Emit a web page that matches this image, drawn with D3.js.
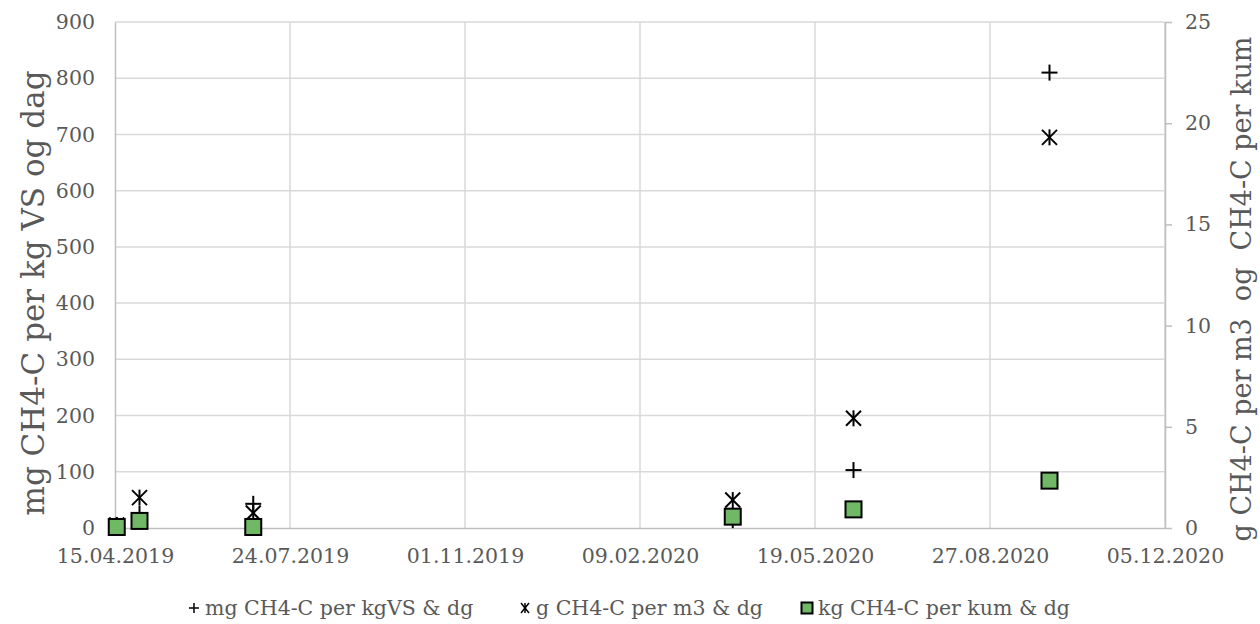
<!DOCTYPE html>
<html>
<head>
<meta charset="utf-8">
<script src="https://cdn.jsdelivr.net/npm/d3@7"></script>
<style>
  html, body { margin: 0; padding: 0; background: #fff; }
  svg { display: block; }
  text { font-family: "DejaVu Serif", "Liberation Serif", serif; fill: #595959; }
</style>
</head>
<body>
<svg id="chart" width="1260" height="624"></svg>
<script>
// Sampling dates and measured values
const sampleDates = ["16.04.2019", "29.04.2019", "03.07.2019", "02.04.2020", "10.06.2020", "30.09.2020"];
const mgPerKgVS   = [5, 25, 43, 14, 103, 810];        // mg CH4-C per kgVS & dg (left axis)
const gPerM3      = [0.15, 1.5, 0.74, 1.38, 5.42, 19.3]; // g CH4-C per m3 & dg (right axis)
const kgPerKum    = [0.05, 0.35, 0.05, 0.56, 0.92, 2.34]; // kg CH4-C per kum & dg (right axis)

const xTickLabels = ["15.04.2019", "24.07.2019", "01.11.2019", "09.02.2020", "19.05.2020", "27.08.2020", "05.12.2020"];
const leftTicks   = [0, 100, 200, 300, 400, 500, 600, 700, 800, 900];
const rightTicks  = [0, 5, 10, 15, 20, 25];

const seriesNames = ["mg CH4-C per kgVS & dg", "g CH4-C per m3 & dg", "kg CH4-C per kum & dg"];
const leftTitle  = "mg CH4-C per kg VS og dag";
const rightTitle = "g CH4-C per m3  og  CH4-C per kum";

const parse = d3.utcParse("%d.%m.%Y");
const fmt = d3.utcFormat("%d.%m.%Y");

const svg = d3.select("#chart");
const m = { left: 115, right: 1165, top: 22, bottom: 528 };

const x = d3.scaleUtc()
  .domain([parse(xTickLabels[0]), parse(xTickLabels[xTickLabels.length - 1])])
  .range([m.left, m.right]);
const yL = d3.scaleLinear().domain([0, 900]).range([m.bottom, m.top]);
const yR = d3.scaleLinear().domain([0, 25]).range([m.bottom, m.top]);

const tickFont = 20.5;

// Gridlines
const grid = svg.append("g");
grid.selectAll("line.h").data(leftTicks.slice(1)).join("line")
  .attr("x1", m.left).attr("x2", m.right)
  .attr("y1", d => yL(d)).attr("y2", d => yL(d))
  .attr("stroke", "#d9d9d9").attr("stroke-width", 1.5);
grid.selectAll("line.v").data(xTickLabels.slice(1)).join("line")
  .attr("x1", d => x(parse(d))).attr("x2", d => x(parse(d)))
  .attr("y1", m.top).attr("y2", m.bottom)
  .attr("stroke", "#d9d9d9").attr("stroke-width", 1.5);

// Bottom axis
const xAxis = d3.axisBottom(x).tickValues(xTickLabels.map(parse)).tickFormat(fmt).tickSize(0).tickPadding(20);
const gx = svg.append("g").attr("transform", `translate(0,${m.bottom})`).call(xAxis);
gx.select(".domain").attr("stroke", "#bfbfbf").attr("stroke-width", 1.5);
gx.selectAll("text").style("font-size", tickFont + "px").attr("fill", "#595959");

// Left axis
const yAxisL = d3.axisLeft(yL).tickValues(leftTicks).tickSize(0).tickPadding(20);
const gl = svg.append("g").attr("transform", `translate(${m.left},0)`).call(yAxisL);
gl.select(".domain").attr("stroke", "#bfbfbf").attr("stroke-width", 1.5);
gl.selectAll("text").style("font-size", tickFont + "px").attr("fill", "#595959");

// Right axis
const yAxisR = d3.axisRight(yR).tickValues(rightTicks).tickSize(7).tickSizeOuter(0).tickPadding(13);
const gr = svg.append("g").attr("transform", `translate(${m.right},0)`).call(yAxisR);
gr.select(".domain").attr("stroke", "#bfbfbf").attr("stroke-width", 1.5);
gr.selectAll(".tick line").attr("stroke", "#bfbfbf").attr("stroke-width", 1.5);
gr.selectAll("text").style("font-size", tickFont + "px").attr("fill", "#595959");

// Axis titles
svg.append("text")
  .attr("transform", `translate(44,293) rotate(-90)`)
  .attr("text-anchor", "middle")
  .style("font-size", "31px")
  .text(leftTitle);
svg.append("text")
  .attr("transform", `translate(1251,289) rotate(-90)`)
  .attr("text-anchor", "middle")
  .style("font-size", "27px")
  .style("white-space", "pre")
  .text(rightTitle);

// Marker shapes
const half = 8;
function plus(g) {
  g.append("line").attr("x1", -half).attr("x2", half).attr("y1", 0).attr("y2", 0);
  g.append("line").attr("x1", 0).attr("x2", 0).attr("y1", -half).attr("y2", half);
}
function star(g) {
  const a = 7.5;
  g.append("line").attr("x1", -a).attr("x2", a).attr("y1", -a).attr("y2", a);
  g.append("line").attr("x1", -a).attr("x2", a).attr("y1", a).attr("y2", -a);
  g.append("line").attr("x1", 0).attr("x2", 0).attr("y1", -half).attr("y2", half);
}
function square(g, s) {
  g.append("rect").attr("x", -s / 2).attr("y", -s / 2).attr("width", s).attr("height", s)
    .attr("fill", "#71b866").attr("stroke", "#000").attr("stroke-width", 2);
}

const dates = sampleDates.map(parse);
const plot = svg.append("g");

plot.selectAll("g.plus").data(d3.zip(dates, mgPerKgVS)).join("g")
  .attr("transform", d => `translate(${x(d[0])},${yL(d[1])})`)
  .attr("stroke", "#000").attr("stroke-width", 2)
  .each(function () { plus(d3.select(this)); });

plot.selectAll("g.star").data(d3.zip(dates, gPerM3)).join("g")
  .attr("transform", d => `translate(${x(d[0])},${yR(d[1])})`)
  .attr("stroke", "#000").attr("stroke-width", 2)
  .each(function () { star(d3.select(this)); });

plot.selectAll("g.sq").data(d3.zip(dates, kgPerKum)).join("g")
  .attr("transform", d => `translate(${x(d[0])},${yR(d[1])})`)
  .each(function () { square(d3.select(this), 16); });

// Legend
const legendY = 608;
const legendItems = [
  { name: seriesNames[0], mx: 194, draw: g => { g.attr("stroke", "#000").attr("stroke-width", 1.5);
      g.append("line").attr("x1", -5).attr("x2", 5).attr("y1", 0).attr("y2", 0);
      g.append("line").attr("x1", 0).attr("x2", 0).attr("y1", -5).attr("y2", 5); } },
  { name: seriesNames[1], mx: 525, draw: g => { g.attr("stroke", "#000").attr("stroke-width", 1.5);
      g.append("line").attr("x1", -4).attr("x2", 4).attr("y1", -5).attr("y2", 5);
      g.append("line").attr("x1", -4).attr("x2", 4).attr("y1", 5).attr("y2", -5);
      g.append("line").attr("x1", 0).attr("x2", 0).attr("y1", -5).attr("y2", 5); } },
  { name: seriesNames[2], mx: 807, draw: g => square(g, 11) }
];
const lg = svg.append("g");
legendItems.forEach(it => {
  const g = lg.append("g").attr("transform", `translate(${it.mx},${legendY})`);
  it.draw(g);
  lg.append("text").attr("x", it.mx + 11).attr("y", legendY + 7)
    .style("font-size", "20.5px").text(it.name);
});
</script>
</body>
</html>
